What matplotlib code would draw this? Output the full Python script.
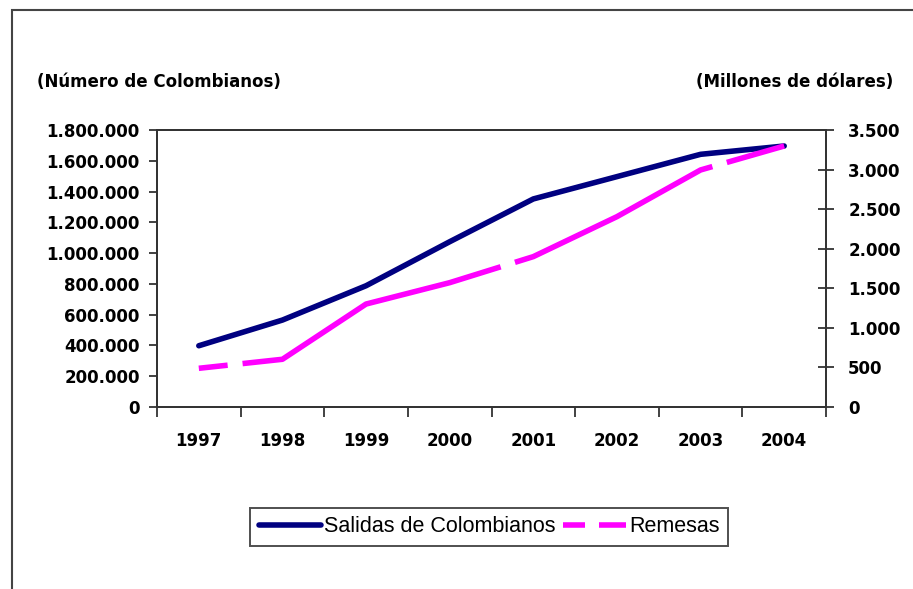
import matplotlib
matplotlib.use("Agg")
import matplotlib.pyplot as plt
from matplotlib.patches import Rectangle
from matplotlib.ticker import FuncFormatter, FixedLocator
from matplotlib.font_manager import FontProperties

years = ["1997", "1998", "1999", "2000", "2001", "2002", "2003", "2004"]
salidas = [398000, 565000, 788000, 1074000, 1352000, 1497000, 1642000, 1696000]
remesas = [489, 603, 1301, 1571, 1900, 2405, 2995, 3298]

NAVY = "#000080"
MAGENTA = "#FF00FF"
GRID = "#333333"
PX = 0.72  # px -> pt a 100 dpi

plt.rcParams["lines.scale_dashes"] = False


def miles(v, _pos=None):
    return f"{int(round(v)):,}".replace(",", ".")


fig = plt.figure(figsize=(9.13, 5.89), dpi=100)
W, H = 913, 589
ax = fig.add_axes([157 / W, 1 - 407 / H, (826 - 157) / W, (407 - 130) / H])
ax2 = ax.twinx()

x = list(range(len(years)))
l1, = ax.plot(x, salidas, color=NAVY, lw=4.0, solid_capstyle="round", solid_joinstyle="round", zorder=3)
# guiones largos irregulares como en el original (Excel)
dash = (486 * PX, (280 * PX, 15 * PX, 220 * PX, 15 * PX))
l2, = ax2.plot(x, remesas, color=MAGENTA, lw=4.0, linestyle=dash, dash_capstyle="butt", zorder=2)

ax.set_xlim(-0.5, 7.5)
ax.set_ylim(0, 1800000)
ax2.set_ylim(0, 3500)

ax.set_yticks(range(0, 1800001, 200000))
ax.yaxis.set_major_formatter(FuncFormatter(miles))
ax2.set_yticks(range(0, 3501, 500))
ax2.yaxis.set_major_formatter(FuncFormatter(miles))

ax.xaxis.set_major_locator(FixedLocator([i - 0.5 for i in range(len(years) + 1)]))
ax.xaxis.set_major_formatter(FuncFormatter(lambda v, p: ""))
ax.xaxis.set_minor_locator(FixedLocator(x))
ax.set_xticklabels(years, minor=True)

tfont = dict(family="DejaVu Sans", weight="bold", size=12)
for lab in ax.get_yticklabels() + ax2.get_yticklabels() + ax.get_xticklabels(minor=True):
    lab.set_fontproperties(FontProperties(**tfont))

ax.tick_params(axis="y", direction="out", length=6, width=1.3, color=GRID, pad=6.5)
ax2.tick_params(axis="y", direction="inout", length=12, width=1.3, color=GRID, pad=10)
ax.tick_params(axis="x", which="major", direction="out", length=7, width=1.3, color=GRID)
ax.tick_params(axis="x", which="minor", length=0, pad=18)

for a in (ax, ax2):
    for s in a.spines.values():
        s.set_color(GRID)
        s.set_linewidth(1.3)

# etiquetas de ejes arriba
fig.text(37 / W, 1 - 82 / H, "(Número de Colombianos)", ha="left", va="center", **tfont)
fig.text(893 / W, 1 - 82 / H, "(Millones de dólares)", ha="right", va="center", **tfont)

# marco exterior del gráfico
fig.patches.append(Rectangle((12 / W, -0.1), 1.1, 1 - 10 / H + 0.1, transform=fig.transFigure,
                             fill=False, edgecolor="#444444", lw=1.5))

leg = fig.legend([l1, l2], ["Salidas de Colombianos", "Remesas"], loc="center",
                 bbox_to_anchor=(489 / W, 1 - 527 / H), ncol=2, frameon=True, fancybox=False,
                 prop=dict(family="Liberation Sans", size=15.5), handlelength=2.9,
                 handletextpad=0.15, columnspacing=0.35, borderpad=0.4, borderaxespad=0)
leg.get_frame().set_edgecolor("#222222")
leg.get_frame().set_linewidth(1.4)
leg.legend_handles[1].set_linestyle((0, (22 * PX, 14 * PX, 60 * PX, 0)))

fig.savefig("out.png", dpi=100)
